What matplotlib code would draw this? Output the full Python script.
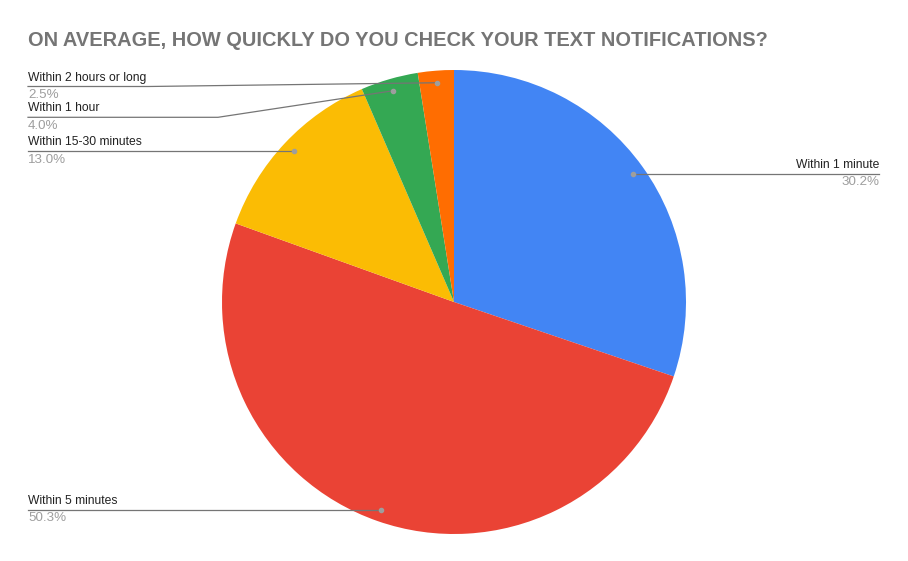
import numpy as np
import matplotlib.pyplot as plt

plt.rcParams['font.family'] = ['Liberation Sans', 'DejaVu Sans']

# Data
categories = ['Within 1 minute', 'Within 5 minutes', 'Within 15-30 minutes',
              'Within 1 hour', 'Within 2 hours or long']
shares = [30.2, 50.3, 13.0, 4.0, 2.5]
colors = ['#4285F4', '#EA4335', '#FBBC04', '#34A853', '#FF6D01']

W, H = 908, 561
fig = plt.figure(figsize=(W / 100, H / 100), dpi=100)
ax = fig.add_axes([0, 0, 1, 1])

cx, cy, R = 454, 302, 232


def fy(y):
    # pixel row (from top) -> data y
    return H - y


wedges, _ = ax.pie(shares, colors=colors, startangle=90, counterclock=False,
                   center=(cx, fy(cy)), radius=R, frame=True,
                   wedgeprops=dict(linewidth=0))
ax.set_xlim(0, W)
ax.set_ylim(0, H)
ax.set_aspect('equal')
ax.axis('off')

# leader anchor points at the middle of each wedge (pixel rows from top)
anchors = []
for w in wedges:
    ang = np.deg2rad((w.theta1 + w.theta2) / 2)
    anchors.append((cx + 0.948 * R * np.cos(ang), cy - 0.948 * R * np.sin(ang)))

line_c = '#757575'
lab_c = '#222222'
pct_c = '#9e9e9e'
fs = 8.7
pfs = 9.6

# right-hand label (Within 1 minute)
x0, y0 = anchors[0]
ax.plot([x0, 879], [fy(y0), fy(y0)], color=line_c, lw=0.9, zorder=4)
ax.text(879, fy(y0 - 3), categories[0], ha='right', va='bottom', fontsize=fs, color=lab_c)
ax.text(879, fy(y0 + 2.5), f'{shares[0]:.1f}%', ha='right', va='top', fontsize=pfs, color=pct_c)

# left-hand labels: (index, underline row, elbow x)
left = [(1, None, None), (2, None, None), (3, 117.3, 218), (4, 86.5, 148)]
for i, ly, ex in left:
    x0, y0 = anchors[i]
    if ly is None:
        ly = y0
        ax.plot([28, x0], [fy(ly), fy(y0)], color=line_c, lw=0.9, zorder=4)
    else:
        ax.plot([28, ex, x0], [fy(ly), fy(ly), fy(y0)], color=line_c, lw=0.9, zorder=4)
    ax.text(28, fy(ly - 3), categories[i], ha='left', va='bottom', fontsize=fs, color=lab_c)
    ax.text(28, fy(ly + 2.5), f'{shares[i]:.1f}%', ha='left', va='top', fontsize=pfs, color=pct_c)

for x0, y0 in anchors:
    ax.plot(x0, fy(y0), 'o', ms=3, color='#9e9e9e', zorder=5)

ax.text(28, fy(40), 'ON AVERAGE, HOW QUICKLY DO YOU CHECK YOUR TEXT NOTIFICATIONS?',
        fontsize=14.4, fontweight='bold', color='#757575', ha='left', va='center')

fig.savefig('out.png', dpi=100)
